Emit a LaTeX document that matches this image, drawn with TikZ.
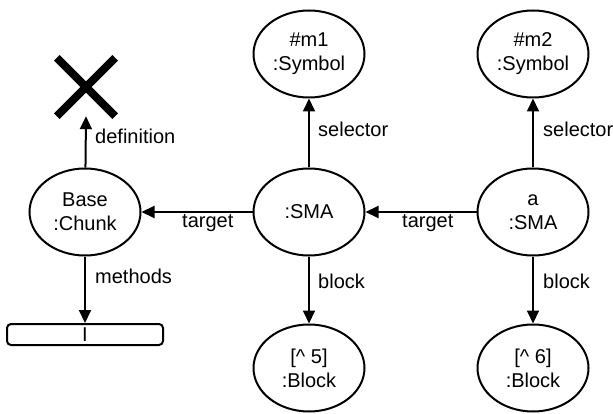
\documentclass[tikz,border=0pt]{standalone}
\usepackage{fontspec}
\setmainfont{Liberation Sans}
\usetikzlibrary{arrows.meta,shapes.geometric}
\begin{document}
\begin{tikzpicture}[x=1pt,y=-1pt,
  obj/.style={ellipse,draw,line width=2pt,minimum width=111pt,minimum height=87pt,inner sep=0pt,align=center,font=\fontsize{20}{24}\selectfont},
  conn/.style={line width=2pt,-{Triangle[length=13pt,width=12pt]}},
  lbl/.style={anchor=base west,inner sep=0pt,font=\fontsize{20}{24}\selectfont}]
\useasboundingbox (0,0) rectangle (613,414);
\node[obj] (base) at (85,212) {Base\\:Chunk};
\node[obj] (sma1) at (309,212) {:SMA};
\node[obj] (sma2) at (533,212) {a\\:SMA};
\node[obj] (m1) at (309,54) {\#m1\\:Symbol};
\node[obj] (m2) at (533,54) {\#m2\\:Symbol};
\node[obj] (b5) at (309,368) {[\textasciicircum{} 5]\\:Block};
\node[obj] (b6) at (533,368) {[\textasciicircum{} 6]\\:Block};
\node[minimum size=58pt,inner sep=0pt] (cross) at (86,87) {};
\draw[line width=8pt] (cross.north west) -- (cross.south east) (cross.north east) -- (cross.south west);
\node[draw,rounded corners=4pt,line width=2pt,minimum width=156pt,minimum height=21pt,inner sep=0pt,font=\fontsize{20}{24}\selectfont] (meth) at (85,334.5) {I};
\draw[conn] (base) -- (cross.south);
\draw[conn] (base) -- (meth);
\draw[conn] (sma1) -- (base);
\draw[conn] (sma2) -- (sma1);
\draw[conn] (sma1) -- (m1);
\draw[conn] (sma2) -- (m2);
\draw[conn] (sma1) -- (b5);
\draw[conn] (sma2) -- (b6);
\node[lbl] (ldef) at (95,144) {definition};
\node[lbl] (lmeth) at (95,283) {methods};
\node[lbl] (lt1) at (182,227) {target};
\node[lbl] (lt2) at (402,227) {target};
\node[lbl] (ls1) at (318,137) {selector};
\node[lbl] (ls2) at (543,137) {selector};
\node[lbl] (lb1) at (318,288) {block};
\node[lbl] (lb2) at (543,288) {block};
\end{tikzpicture}
\end{document}
